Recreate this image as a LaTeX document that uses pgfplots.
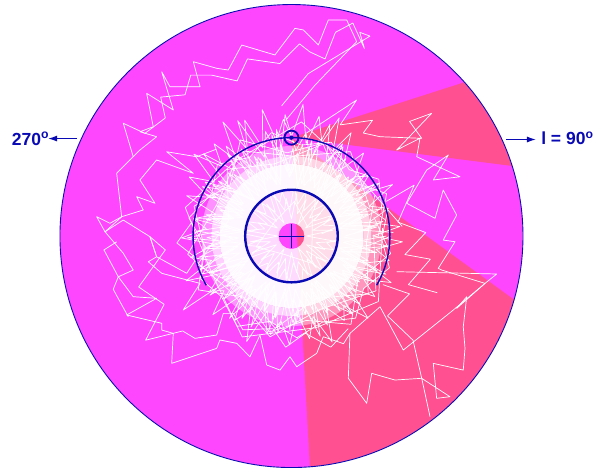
\documentclass[border=0pt]{standalone}
\usepackage{fontspec}
\setmainfont{Liberation Sans}
\usepackage{pgfplots}
\pgfplotsset{compat=1.18}
\usetikzlibrary{arrows.meta}

\definecolor{diskmag}{RGB}{255,70,255}
\definecolor{wedgepink}{RGB}{255,80,145}
\definecolor{markblue}{RGB}{10,10,180}

% stellar orbit tracks (kpc, Galactic centre at the origin, Sun at (0,8.5))
\pgfplotsset{orbit/.style={white, line width=0.7pt, mark=none, line join=round}}

\begin{document}
\begin{tikzpicture}
\begin{axis}[hide axis, scale only axis,
  x=11.575pt, y=11.575pt,
  xmin=-25.18, xmax=26.48, ymin=-20.04, ymax=20.39,
  clip=false]

% Galactic disk, R = 20 kpc
\fill[diskmag] (axis cs:0,0) circle[radius=231.5pt];
% longitude sectors seen from the Sun
\fill[wedgepink] (axis cs:0,8.5) -- (axis cs:38.1,20.7) -- (axis cs:39.7,3.4) -- cycle;
\fill[wedgepink] (axis cs:0,8.5) -- (axis cs:36.4,-18.0) -- (axis cs:40,-40) -- (axis cs:2.51,-36.4) -- cycle;
% blank out everything beyond the disk edge
\fill[white, even odd rule] (axis cs:-45,-45) rectangle (axis cs:45,45)
  (axis cs:0,0) circle[radius=231.5pt];

% crowded inner region
\fill[white, opacity=0.8, even odd rule] (axis cs:0,0) circle[radius=46pt] circle[radius=13pt];
\fill[white, opacity=0.96, even odd rule] (axis cs:0,0) circle[radius=72pt] circle[radius=46pt];
\fill[white, opacity=0.75, even odd rule] (axis cs:0,0) circle[radius=80pt] circle[radius=72pt];
\fill[white, opacity=0.4, even odd rule] (axis cs:0,0) circle[radius=90pt] circle[radius=80pt];

% ring orbits, (angle in deg, radius in kpc)
\addplot[orbit, data cs=polar] coordinates {
(0,4.6) (6,7.4) (11,5.0) (17,8.1) (22,4.4) (29,7.0) (33,5.3) (40,8.4) (45,4.8) (51,6.9) (56,4.3) (63,7.8) (68,5.1) (74,8.6) (79,4.6) (86,7.2) (90,5.4) (97,8.0) (102,4.5) (108,7.5) (113,5.2) (120,8.7) (125,4.7) (131,6.8) (136,4.4) (143,7.9) (148,5.0) (154,8.3) (159,4.5) (166,7.1) (171,5.5) (177,8.2) (182,4.6) (188,7.6) (193,5.1) (200,8.5) (205,4.4) (211,7.0) (216,5.3) (223,8.0) (228,4.7) (234,7.3) (239,4.9) (246,8.6) (251,4.5) (257,7.4) (262,5.2) (269,8.1) (274,4.6) (280,6.9) (285,5.0) (292,8.3) (297,4.4) (303,7.7) (308,5.3) (315,8.4) (320,4.7) (326,7.1) (331,5.1) (338,8.0) (343,4.5) (349,7.5) (354,5.2) (360,8.2)
};
\addplot[orbit, data cs=polar] coordinates {
(3,5.6) (9,8.0) (14,4.3) (20,6.9) (25,5.2) (32,8.6) (37,4.6) (43,7.3) (48,5.5) (55,8.2) (60,4.4) (66,7.0) (71,5.0) (78,8.5) (83,4.3) (89,7.6) (94,5.6) (101,8.9) (106,4.8) (112,7.2) (117,5.0) (124,8.4) (129,4.4) (135,7.7) (140,5.4) (147,8.1) (152,4.6) (158,7.0) (163,5.2) (170,8.6) (175,4.3) (181,7.3) (186,5.7) (193,8.2) (198,4.7) (204,7.8) (209,5.0) (216,8.7) (221,4.4) (227,7.2) (232,5.5) (239,8.3) (244,4.6) (250,7.0) (255,5.1) (262,8.5) (267,4.3) (273,7.6) (278,5.6) (285,8.0) (290,4.8) (296,7.2) (301,5.0) (308,8.6) (313,4.4) (319,7.4) (324,5.4) (331,8.2) (336,4.6) (342,7.0) (347,5.2) (354,8.4) (359,4.5)
};
\addplot[orbit, data cs=polar] coordinates {
(2,8.8) (9,4.2) (16,6.4) (24,4.9) (31,8.9) (38,5.8) (46,7.1) (53,4.3) (61,9.1) (68,6.0) (76,4.5) (83,8.0) (91,5.2) (98,9.3) (106,4.6) (113,7.4) (121,5.9) (128,9.0) (136,4.3) (143,6.5) (151,8.8) (158,4.8) (166,7.6) (173,5.3) (181,9.0) (188,4.4) (196,6.8) (203,8.4) (211,4.7) (218,7.1) (226,5.0) (233,8.9) (241,4.5) (248,6.3) (256,8.7) (263,4.9) (271,7.5) (278,5.6) (286,9.0) (293,4.4) (301,6.9) (308,8.5) (316,4.6) (323,7.2) (331,5.5) (338,8.8) (346,4.3) (353,6.7) (360,8.6)
};
\addplot[orbit, data cs=polar] coordinates {
(358,6.2) (353,4.5) (349,7.4) (344,5.0) (340,6.8) (335,4.4) (331,7.6) (326,5.3) (322,6.5) (317,4.6) (313,7.3) (308,5.6) (304,6.9) (299,4.3) (295,7.5) (290,5.1) (286,6.6) (281,4.7) (277,7.7) (272,5.4) (268,6.3) (263,4.5) (259,7.2) (254,5.0) (250,6.9) (245,4.4) (241,7.5) (236,5.5) (232,6.4) (227,4.6) (223,7.4) (218,5.2) (214,6.8) (209,4.3) (205,7.6) (200,5.6) (196,6.5) (191,4.7) (187,7.3) (182,5.1) (178,6.9) (173,4.4) (169,7.5) (164,5.3) (160,6.6) (155,4.6) (151,7.7) (146,5.0) (142,6.4) (137,4.5) (133,7.3) (128,5.5) (124,6.8) (119,4.3) (115,7.6) (110,5.2) (106,6.5) (101,4.8) (97,7.4) (92,5.1) (88,6.9) (83,4.4) (79,7.5) (74,5.6) (70,6.3) (65,4.6) (61,7.2) (56,5.0) (52,6.8) (47,4.3) (43,7.6) (38,5.4) (34,6.6) (29,4.7) (25,7.3) (20,5.2) (16,6.9) (11,4.5) (7,7.4) (2,5.3)
};
\addplot[orbit, data cs=polar] coordinates {
(0,7.0) (5,9.4) (10,6.8) (16,8.7) (21,7.2) (27,9.8) (32,6.6) (38,8.4) (43,7.5) (49,9.5) (54,6.9) (60,8.9) (65,7.1) (71,10.2) (76,6.7) (82,9.0) (87,7.4) (93,10.5) (98,6.8) (104,9.3) (109,7.2) (115,11.0) (120,6.9) (126,9.6) (131,7.5) (137,10.4) (142,6.6) (148,8.8) (153,7.3) (159,9.7) (164,6.8) (170,8.6) (175,7.4) (181,9.5) (186,6.7) (192,8.9) (197,7.2) (203,9.9) (208,6.9) (214,8.5) (219,7.5) (225,9.6) (230,6.6) (236,8.8) (241,7.3) (247,9.9) (252,6.8) (258,8.7) (263,7.4) (269,9.4) (274,6.7) (280,9.0) (285,7.2) (291,9.8) (296,6.9) (302,8.6) (307,7.5) (313,9.7) (318,6.6) (324,8.9) (329,7.3) (335,9.5) (340,6.8) (346,8.7) (351,7.4) (357,9.6) (360,7.1)
};
\addplot[orbit, data cs=polar] coordinates {
(55,8.0) (60,10.3) (64,8.2) (68,11.0) (72,8.5) (77,10.6) (81,8.1) (85,11.4) (90,8.6) (94,10.1) (99,8.3) (103,11.2) (108,8.0) (112,10.8) (117,8.4) (121,11.5) (126,8.1) (130,10.4) (135,8.5) (140,11.0) (145,8.2) (150,10.2) (155,7.9)
};
% chords through the outer part of the ring
\addplot[orbit, data cs=polar] coordinates {
(0,7.5) (24,9.0) (45,6.8) (70,8.6) (93,7.2) (118,9.4) (140,6.9) (163,8.8) (187,7.6) (210,9.3) (232,6.7) (257,8.5) (280,7.4) (304,9.2) (326,6.9) (350,8.7) (373,7.3)
};
\addplot[orbit, data cs=polar] coordinates {
(10,8.2) (42,5.9) (71,8.4) (103,6.4) (134,8.0) (166,5.6) (197,8.5) (229,6.2) (260,8.1) (292,5.8) (323,8.3) (355,6.5) (386,8.0)
};
\addplot[orbit, data cs=polar] coordinates {
(5,9.6) (47,7.8) (85,9.9) (126,8.1) (165,9.5) (206,7.6) (244,9.7) (285,8.2) (323,9.4) (365,7.9)
};
\addplot[orbit, data cs=polar] coordinates {
(15,8.1) (33,9.0) (49,7.6) (67,8.8) (84,7.9) (101,9.1) (118,7.7) (136,8.9) (152,7.8) (170,9.0) (187,7.5) (205,8.7) (221,8.0) (239,9.1) (256,7.6) (273,8.8) (290,7.9) (308,9.0) (324,7.7) (342,8.9) (358,7.8) (375,8.6)
};
\addplot[orbit, data cs=polar] coordinates {
(20,7.2) (55,8.9) (88,6.9) (121,8.6) (157,7.0) (190,9.1) (224,7.1) (258,8.9) (291,6.8) (327,8.7) (361,7.1)
};
% inner orbits
\addplot[orbit, data cs=polar] coordinates {
(0,1.3) (8,3.6) (15,1.9) (23,3.8) (30,1.4) (38,3.2) (45,2.2) (53,3.9) (60,1.2) (68,3.4) (75,2.0) (83,3.7) (90,1.5) (98,3.3) (105,2.3) (113,3.9) (120,1.3) (128,3.5) (135,1.8) (143,3.8) (150,1.4) (158,3.1) (165,2.4) (173,3.9) (180,1.2) (188,3.6) (195,1.9) (203,3.7) (210,1.5) (218,3.3) (225,2.1) (233,3.8) (240,1.3) (248,3.4) (255,2.0) (263,3.9) (270,1.4) (278,3.2) (285,2.3) (293,3.7) (300,1.2) (308,3.5) (315,1.8) (323,3.8) (330,1.5) (338,3.1) (345,2.2) (353,3.9) (360,1.3)
};
\addplot[orbit, data cs=polar] coordinates {
(4,2.6) (12,4.2) (19,2.9) (27,3.9) (34,2.3) (42,4.3) (49,3.0) (57,3.8) (64,2.4) (72,4.1) (79,2.8) (87,4.3) (94,2.2) (102,3.9) (109,3.1) (117,4.2) (124,2.5) (132,3.8) (139,2.9) (147,4.3) (154,2.3) (162,4.0) (169,3.0) (177,4.2) (184,2.4) (192,3.9) (199,2.8) (207,4.3) (214,2.2) (222,4.1) (229,3.1) (237,3.8) (244,2.5) (252,4.2) (259,2.9) (267,4.0) (274,2.3) (282,4.3) (289,3.0) (297,3.9) (304,2.4) (312,4.1) (319,2.8) (327,4.2) (334,2.2) (342,3.8) (349,3.1) (357,4.3)
};
\addplot[orbit, data cs=polar] coordinates {
(30,1.6) (85,3.0) (140,1.9) (197,3.2) (250,1.7) (306,2.9) (360,1.8) (415,3.1)
};

% outer tracks (x, y in kpc)
\addplot[orbit] coordinates {
(-0.5,10.0) (2.0,13.0) (5.63,16.79) (4.77,18.66) (3.18,18.66) (2.32,16.50) (1.02,17.80) (0.30,17.94) (-1.43,15.64) (-4.30,16.50) (-5.46,14.34) (-6.46,14.49) (-8.48,15.06) (-7.90,12.90) (-10.50,12.90) (-11.21,14.19) (-10.21,10.89) (-12.51,12.33) (-11.94,9.44) (-13.09,9.01) (-11.65,8.58) (-13.09,7.43) (-13.69,6.83) (-15.10,5.42) (-14.67,1.66) (-16.11,0.37) (-14.53,-1.49) (-13.67,-2.94) (-14.96,-3.52) (-13.67,-5.24) (-11.65,-5.38) (-14.24,-6.82) (-11.21,-7.54) (-11.21,-8.12) (-10.21,-8.41) (-10.35,-11.0) (-6.46,-9.70) (-6.18,-8.98) (-4.73,-9.27) (-3.59,-10.43) (-2.72,-8.55) (-2.14,-11.14) (-0.99,-11.58) (-0.13,-10.43) (0.45,-11.29) (2.18,-10.13) (2.75,-8.70) (4.5,-9.3) (5.05,-8.41)
};
\addplot[orbit] coordinates {
(-0.85,11.25) (1.45,14.03) (6.78,17.27) (5.9,17.6) (6.3,16.2) (5.3,18.4) (3.8,17.6) (2.9,15.3) (1.6,15.9) (0.7,16.6) (-1.0,14.9) (-3.8,15.3) (-4.7,13.4) (-6.9,13.9) (-8.7,13.9) (-9.2,12.2) (-11.3,12.0) (-10.9,10.2) (-12.66,8.87) (-14.53,9.74) (-13.67,6.85)
};
\addplot[orbit] coordinates {
(-6.5,7.5) (-8.19,6.85) (-10.78,7.28) (-8.48,5.42) (-11.65,6.57) (-13.09,4.84) (-11.79,2.83) (-13.37,3.40) (-12.80,2.25) (-14.67,1.67) (-15.68,1.10) (-16.83,1.67) (-16.11,0.37) (-14.53,1.38) (-12.22,-0.06) (-11.65,-1.79) (-9.05,-3.22) (-8.19,-1.93) (-9.9,-0.6) (-8.6,1.2)
};
\addplot[orbit] coordinates {
(-6.5,-4.5) (-9.35,-6.39) (-7.90,-4.09) (-11.21,-3.22) (-12.37,-2.22) (-11.65,-1.79) (-12.22,-0.06) (-10.9,-1.2) (-13.2,-4.4) (-11.0,-5.9) (-12.6,-9.0) (-9.4,-8.2) (-8.34,-8.84) (-6.46,-8.55) (-5.89,-6.68) (-5.03,-6.68) (-4.2,-8.1) (-1.6,-8.0) (-0.5,-9.6) (1.2,-8.4) (3.4,-9.6) (4.9,-8.0)
};
\addplot[orbit] coordinates {
(-14.10,-6.97) (-15.4,-4.6) (-14.96,-3.52) (-16.2,-1.2) (-15.1,-0.5)
};
\addplot[orbit] coordinates {
(1.3,8.9) (5.63,11.75) (4.2,9.6) (7.0,10.0) (6.2,8.9) (7.65,8.58) (11.25,8.44) (10.2,9.9) (12.11,10.60) (9.09,7.43) (11.10,8.44) (10.82,6.85) (14.56,5.12) (12.25,4.84) (13.55,7.00) (11.68,5.70) (9.95,2.83) (12.40,1.53) (13.11,3.97) (14.27,1.81) (13.11,-0.35) (14.13,-0.49) (12.68,-2.79) (12.98,-2.94) (16.72,-4.09) (14.27,-6.25) (15.14,-5.24) (14.84,-7.84) (14.99,-9.70) (14.84,-11.58) (12.25,-11.0) (12.54,-14.02) (13.69,-13.88) (11.25,-12.29) (11.97,-15.61)
};
\addplot[orbit] coordinates {
(9.09,-3.08) (17.73,-3.28) (16.72,-4.09) (13.98,-6.39) (9.66,-9.85) (7.65,-6.11) (5.05,-8.41) (4.91,-12.29) (6.50,-14.45) (6.93,-11.86) (8.94,-12.44) (11.25,-12.29) (10.5,-9.0) (8.3,-6.9) (10.2,-5.0) (7.9,-4.2)
};
\addplot[orbit] coordinates {
(8.2,3.0) (10.6,4.4) (9.2,1.2) (11.6,0.3) (9.8,-1.6) (12.0,-2.0) (10.1,-4.2) (12.6,-4.9)
};

% inner Galaxy (R = 4 kpc)
\draw[markblue, line width=2.4pt] (axis cs:0,0) circle[radius=46.3pt];
% solar circle
\draw[markblue, line width=1.4pt] (axis cs:7.361,-4.25) arc[start angle=-30, end angle=210, radius=98.4pt];
% Sun
\draw[markblue, line width=1.8pt] (axis cs:0,8.5) circle[radius=7pt];
\fill[markblue] (axis cs:0,8.5) circle[radius=2.2pt];
% Galactic centre
\draw[markblue, line width=1.0pt] (axis cs:-1.05,0) -- (axis cs:1.05,0) (axis cs:0,-1.05) -- (axis cs:0,1.05);
% disk edge
\draw[markblue, line width=0.9pt] (axis cs:0,0) circle[radius=231.5pt];

% longitude directions
\draw[markblue, line width=1.2pt, -{Latex[length=9pt,width=6pt]}] (axis cs:-18.53,8.42) -- (axis cs:-21.03,8.42);
\draw[markblue, line width=1.2pt, -{Latex[length=9pt,width=6pt]}] (axis cs:18.53,8.34) -- (axis cs:21.12,8.34);
\node[anchor=base west, inner sep=0pt, text=markblue, font=\bfseries\fontsize{17.5}{20}\selectfont] at (axis cs:-24.17,7.86) {270\textsuperscript{o}};
\node[anchor=base west, inner sep=0pt, text=markblue, font=\bfseries\fontsize{17.5}{20}\selectfont] at (axis cs:21.56,7.92) {l = 90\textsuperscript{o}};

\coordinate (bl) at (axis cs:-25.18,-20.04);
\coordinate (tr) at (axis cs:26.48,20.39);
\end{axis}
\pgfresetboundingbox
\path[use as bounding box] (bl) rectangle (tr);
\end{tikzpicture}
\end{document}
